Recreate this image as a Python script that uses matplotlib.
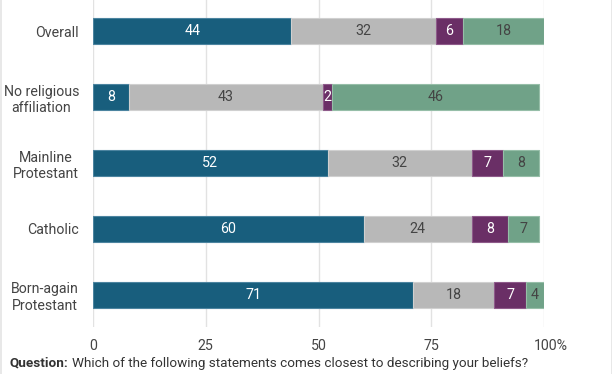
import matplotlib
matplotlib.use("Agg")
import matplotlib.pyplot as plt
from matplotlib.lines import Line2D
from matplotlib.transforms import ScaledTranslation

plt.rcParams['font.family'] = ['Roboto', 'DejaVu Sans']

# data
groups = ["Overall", "No religious\naffiliation", "Mainline\nProtestant", "Catholic", "Born-again\nProtestant"]
s1 = [44, 8, 52, 60, 71]
s2 = [32, 43, 32, 24, 18]
s3 = [6, 2, 7, 8, 7]
s4 = [18, 46, 8, 7, 4]
ticks = [0, 25, 50, 75, 100]
tick_labels = ["0", "25", "50", "75", "100%"]

colors = ["#185e7d", "#b8b8b8", "#6a2f66", "#70a288"]
edges = ["#4c84a0", "#d0d0d0", "#8e5a8a", "#96bea8"]
txt_colors = ["white", "#444444", "white", "#444444"]

W, H = 612, 374
fig = plt.figure(figsize=(6.12, 3.74), dpi=100)
ax = fig.add_axes([93/W, 1 - 327/H, (544-93)/W, 327/H])

y = list(range(len(groups)))
left = [0] * len(groups)
for vals, c, ec, tc in zip([s1, s2, s3, s4], colors, edges, txt_colors):
    bars = ax.barh(y, vals, left=left, height=0.394, color=c, edgecolor=ec, linewidth=0.8, zorder=3)
    for b, v in zip(bars, vals):
        ax.text(b.get_x() + b.get_width()/2, b.get_y() + b.get_height()/2, str(v),
                ha='center', va='center', color=tc, fontsize=10.3, zorder=4)
    left = [l + v for l, v in zip(left, vals)]

ax.set_xlim(0, 100)
ax.set_ylim(4.485, -0.47)
ax.set_yticks(y)
ax.set_yticklabels(groups, fontsize=10.2, color="#444444", linespacing=1.2)
for lab in ax.get_yticklabels():
    lab.set_multialignment('center')
ax.set_xticks(ticks)
ax.set_xticklabels(tick_labels, fontsize=10.2, color="#444444")
ax.tick_params(length=0, pad=9, axis='x')
ax.tick_params(length=0, pad=10, axis='y')
# keep "100" centred on its tick, "%" hanging right
last = ax.get_xticklabels()[-1]
last.set_transform(last.get_transform() + ScaledTranslation(5/72, 0, fig.dpi_scale_trans))
for sp in ax.spines.values():
    sp.set_visible(False)
ax.grid(axis='x', color="#e2e2e2", linewidth=1, zorder=0)

# figure side borders
fig.add_artist(Line2D([0.5/W, 0.5/W], [0, 1], color="#e4e4e4", lw=1.2))
fig.add_artist(Line2D([611.5/W, 611.5/W], [0, 1], color="#e4e4e4", lw=1.2))

t1 = fig.text(10/W, 1 - 363/H, "Question:", fontweight='bold', fontsize=9.7,
              color="#333333", va='center', ha='left')
fig.canvas.draw()
bb = t1.get_window_extent()
fig.text((bb.x1 + 3)/W, 1 - 363/H, "Which of the following statements comes closest to describing your beliefs?",
         fontsize=9.7, color="#333333", va='center', ha='left')

fig.savefig("out.png", dpi=100)
